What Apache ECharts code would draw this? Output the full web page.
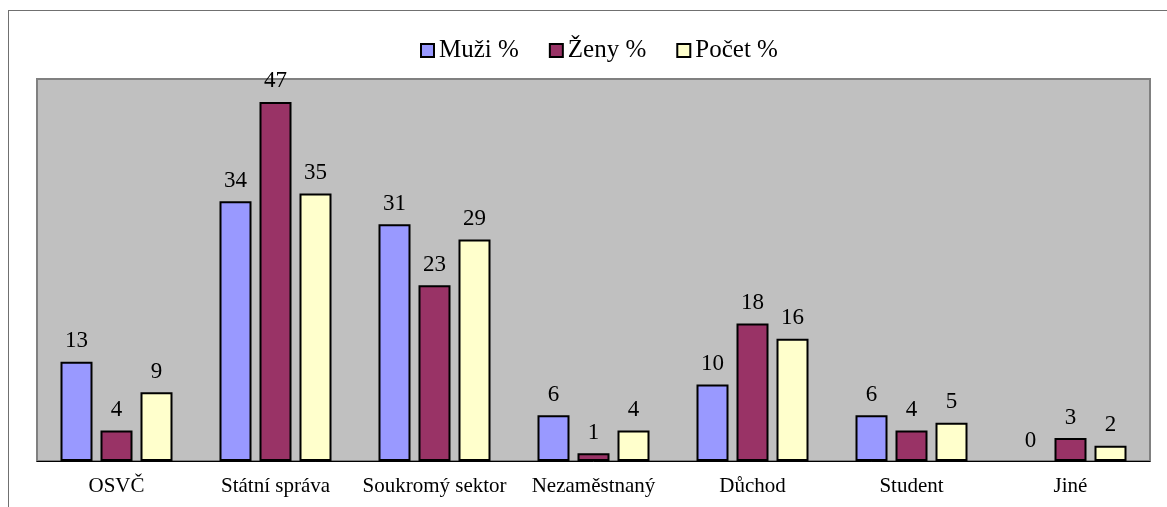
<!DOCTYPE html>
<html>
<head>
<meta charset="utf-8">
<script src="https://cdn.jsdelivr.net/npm/echarts@6/dist/echarts.min.js"></script>
<style>
  html, body { margin: 0; padding: 0; background: #fff; }
  #frame { position: absolute; left: 8px; top: 10px; width: 1180px; height: 520px; border: 1px solid #707070; }
  #chart { position: absolute; left: 0; top: 0; width: 1167px; height: 507px; }
</style>
</head>
<body>
<div id="frame"></div>
<div id="chart"></div>
<script>
const categories = ['OSVČ', 'Státní správa', 'Soukromý sektor', 'Nezaměstnaný', 'Důchod', 'Student', 'Jiné'];
const muzi = [13, 34, 31, 6, 10, 6, 0];
const zeny = [4, 47, 23, 1, 18, 4, 3];
const pocet = [9, 35, 29, 4, 16, 5, 2];

const font = '"Liberation Serif", "Times New Roman", serif';

function barSeries(name, data, color) {
  return {
    name: name,
    type: 'bar',
    // zero bars get no outline, like the original
    data: data.map(v => v === 0 ? { value: v, itemStyle: { borderWidth: 0 } } : v),
    barWidth: 32,
    barGap: '25%',
    itemStyle: { color: color, borderColor: '#000', borderWidth: 2 },
    label: {
      show: true,
      position: 'top',
      distance: 9,
      color: '#000',
      fontFamily: font,
      fontSize: 23
    }
  };
}

const chart = echarts.init(document.getElementById('chart'));
chart.setOption({
  animation: false,
  legend: {
    top: 33,
    left: 415,
    itemWidth: 13,
    itemHeight: 13,
    itemGap: 30,
    icon: 'rect',
    textStyle: { fontFamily: font, fontSize: 25, color: '#000' },
    itemStyle: { borderColor: '#000', borderWidth: 2 }
  },
  grid: {
    left: 37, top: 79, right: 17, bottom: 46,
    show: true,
    backgroundColor: '#C0C0C0',
    borderColor: '#808080',
    borderWidth: 2
  },
  xAxis: {
    type: 'category',
    data: categories,
    axisLine: { lineStyle: { color: '#000', width: 1 } },
    axisTick: { show: false },
    axisLabel: { interval: 0, fontFamily: font, fontSize: 21, color: '#000', margin: 15 }
  },
  yAxis: {
    type: 'value',
    min: 0,
    max: 50,
    show: false,
    splitLine: { show: false }
  },
  series: [
    barSeries('Muži %', muzi, '#9999FF'),
    barSeries('Ženy %', zeny, '#993366'),
    barSeries('Počet %', pocet, '#FFFFCC')
  ]
});
</script>
</body>
</html>
